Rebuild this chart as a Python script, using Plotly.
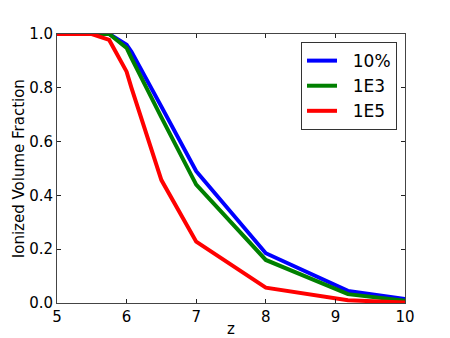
import plotly.graph_objects as go

z = [5.0, 5.5, 5.75, 6.0, 6.07, 6.5, 7.0, 8.0, 9.18, 10.0]
frac_10pct = [1.0, 1.0, 1.0, 0.96, 0.934, 0.73, 0.49, 0.185, 0.045, 0.015]
frac_1e3 = [1.0, 1.0, 1.0, 0.948, 0.91, 0.69, 0.44, 0.16, 0.033, 0.008]
frac_1e5 = [1.0, 1.0, 0.978, 0.86, 0.80, 0.457, 0.228, 0.057, 0.01, 0.002]

series = [
    ('10%', frac_10pct, '#0000ff'),
    ('1E3', frac_1e3, '#008000'),
    ('1E5', frac_1e5, '#ff0000'),
]

fig = go.Figure()
for name, vals, color in series:
    fig.add_trace(go.Scatter(x=z, y=vals, mode='lines', name='  ' + name,
                             line=dict(color=color, width=4)))

axis_common = dict(
    showgrid=False, zeroline=False, showline=True, linecolor='#444', linewidth=1,
    mirror='ticks', ticks='inside', ticklen=4, tickcolor='#222', automargin=False,
    tickfont=dict(size=15, color='black'),
)

# y title placed by hand, a bit closer to the ticks than plotly puts it
fig.add_annotation(text='Ionized Volume Fraction', xref='paper', yref='paper',
                   x=-0.11, y=0.5, textangle=-90, showarrow=False,
                   xanchor='center', yanchor='middle', font=dict(size=15))

fig.update_layout(
    width=450, height=338,
    margin=dict(l=57, r=45, t=34, b=35),
    paper_bgcolor='white', plot_bgcolor='white',
    font=dict(family='DejaVu Sans', color='black'),
    xaxis=dict(range=[5, 10], dtick=1, title=dict(text='z', font=dict(size=15), standoff=0),
               **axis_common),
    yaxis=dict(range=[0, 1], dtick=0.2, tickformat='.1f', **axis_common),
    legend=dict(x=0.977, y=0.97, xanchor='right', yanchor='top',
                bgcolor='white', bordercolor='#333', borderwidth=1,
                font=dict(size=17), tracegroupgap=0, itemwidth=30),
)

fig.write_html("out.html", config={'displayModeBar': False},
               post_script="document.body.style.margin='0';")
